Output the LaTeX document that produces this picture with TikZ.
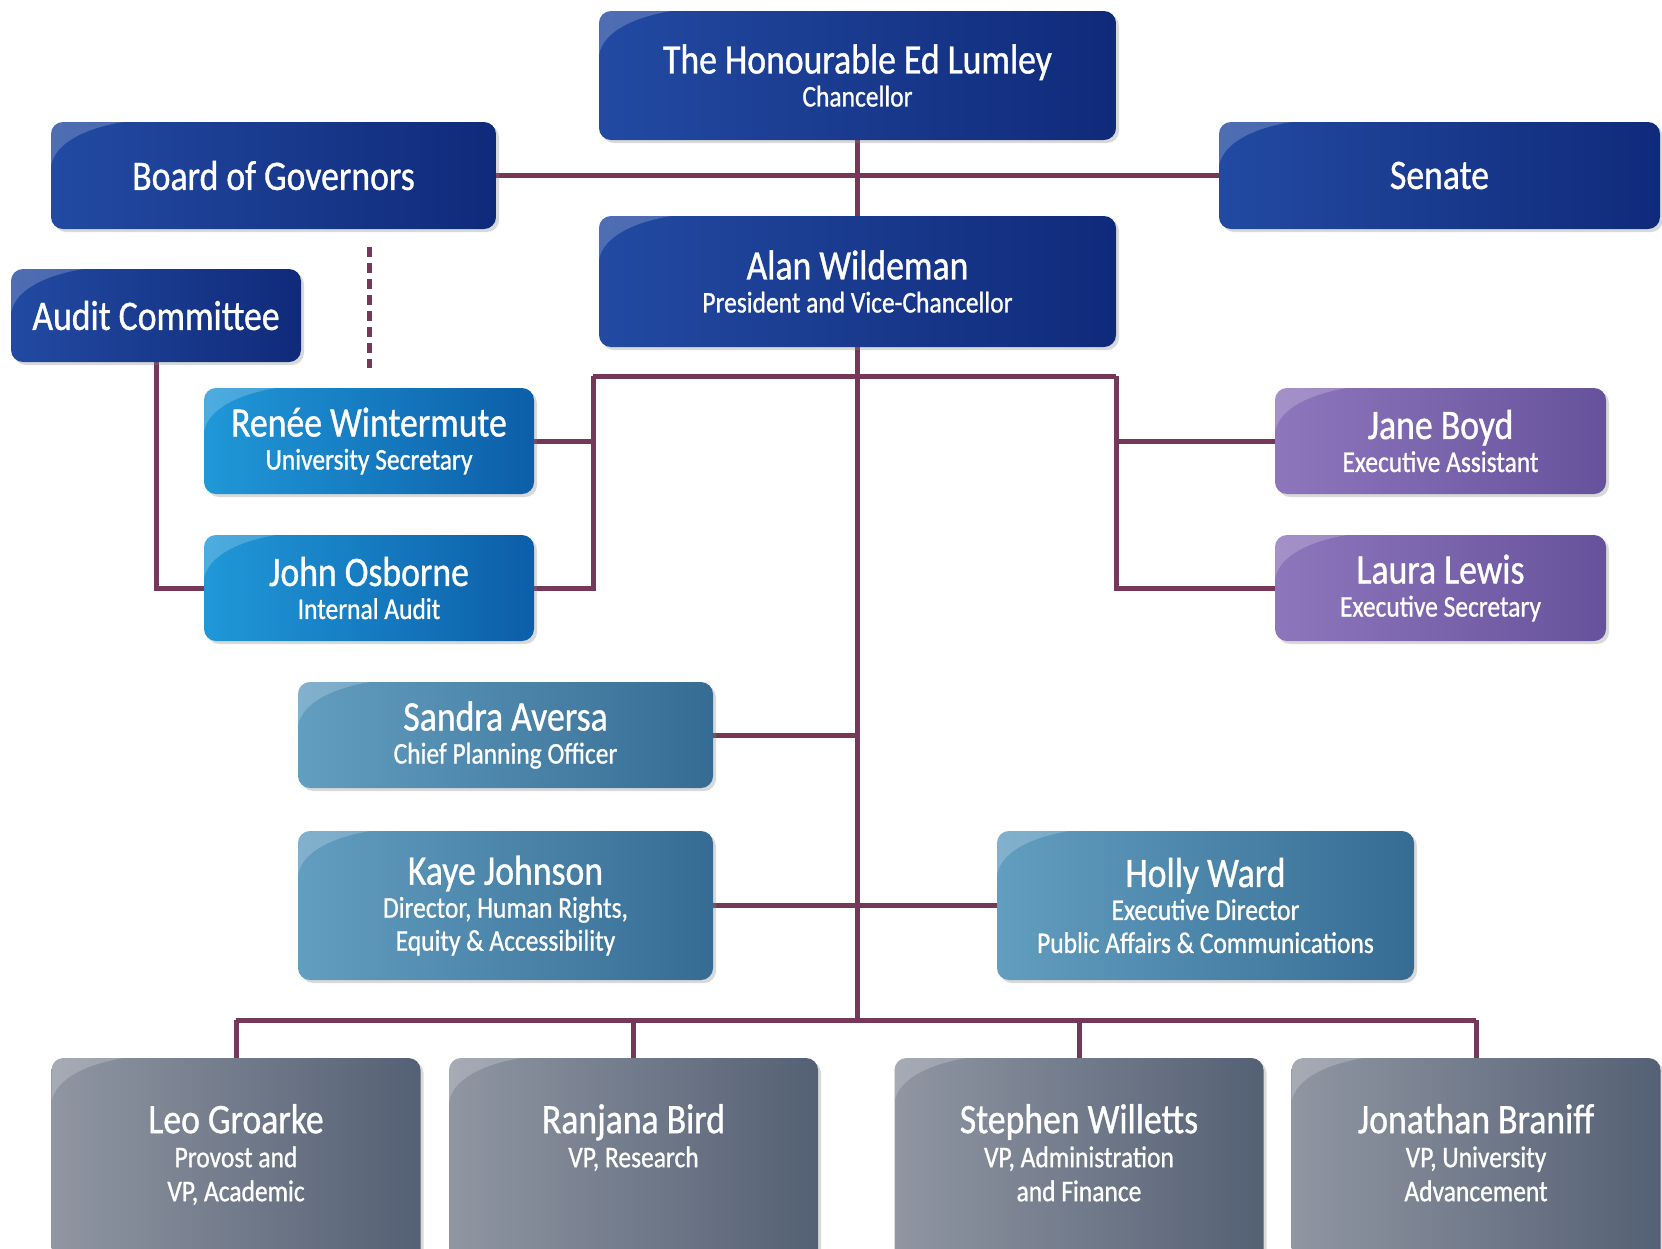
\documentclass[tikz,border=0pt]{standalone}
\usepackage{fontspec}
\setmainfont{Carlito}[FakeStretch=0.85, FakeBold=0.9,
                      BoldFont={Carlito}, BoldFeatures={FakeStretch=0.85}]
\usepackage{tikz}
\usetikzlibrary{positioning, shadows, backgrounds, calc}

\definecolor{navyL}{RGB}{34,74,162}
\definecolor{navyR}{RGB}{16,42,122}
\definecolor{skyL}{RGB}{32,152,216}
\definecolor{skyR}{RGB}{12,94,168}
\definecolor{lilacL}{RGB}{142,118,188}
\definecolor{lilacR}{RGB}{102,82,156}
\definecolor{tealL}{RGB}{98,158,192}
\definecolor{tealR}{RGB}{54,108,148}
\definecolor{slateL}{RGB}{144,150,162}
\definecolor{slateR}{RGB}{84,96,116}
\definecolor{wire}{RGB}{118,56,88}

\newcommand{\nm}[1]{{\fontsize{21}{17}\selectfont #1}}

\tikzset{
  unit/.style   = {rectangle, rounded corners=6pt, text=white, align=center,
                   inner sep=0pt, font=\fontsize{15}{16.5}\selectfont,
                   drop shadow={opacity=0.3, shadow xshift=1.5pt,
                                shadow yshift=-1.5pt},
                   path picture={\fill[white, opacity=0.2, sharp corners]
                     (path picture bounding box.north west) -- ++(36pt,0pt)
                     .. controls +(-18pt,-3pt) and +(2pt,12pt) .. ++(-36pt,-22pt)
                     -- cycle;}},
  vptext/.style = {text=white, align=center, inner sep=0pt,
                   font=\fontsize{15}{17}\selectfont},
}

\begin{document}
\begin{tikzpicture}[
    x=0.5pt, y=-0.5pt,
    navy/.style  = {unit, left color=navyL, right color=navyR},
    sky/.style   = {unit, left color=skyL, right color=skyR,
                    minimum width=165pt, minimum height=53pt},
    lilac/.style = {unit, left color=lilacL, right color=lilacR,
                    minimum width=165.5pt, minimum height=53pt},
    teal/.style  = {unit, left color=tealL, right color=tealR},
    slate/.style = {unit, left color=slateL, right color=slateR,
                    minimum width=184.5pt, minimum height=106pt},
    link/.style  = {draw=wire, line width=2.5pt},
    ]

    \useasboundingbox (0,0) rectangle (1662,1249);

    \node[navy, minimum width=258.5pt, minimum height=64.5pt] (chan) at (857.5,75.5)
    {\nm{The Honourable Ed Lumley}\\Chancellor};

    \node[navy, minimum width=222.5pt, minimum height=53.5pt] (bog) at (273.5,175.5)
    {\nm{Board of Governors}};

    \node[navy, minimum width=220.5pt, minimum height=53.5pt] (senate) at (1439.5,175.5)
    {\nm{Senate}};

    \node[navy, minimum width=258.5pt, minimum height=65.5pt] (pres) at (857.5,281.5)
    {\nm{Alan Wildeman}\\President and Vice-Chancellor};

    \node[navy, minimum width=145pt, minimum height=46.5pt] (audit) at (156,315.5)
    {\nm{Audit Committee}};

    \node[sky] (renee) at (369,441) {\nm{Renée Wintermute}\\University Secretary};
    \node[sky] (john)  at (369,588) {\nm{John Osborne}\\Internal Audit};

    \node[lilac] (jane)  at (1440.5,441) {\nm{Jane Boyd}\\Executive Assistant};
    \node[lilac] (laura) at (1440.5,588) {\nm{Laura Lewis}\\Executive Secretary};

    \node[teal, minimum width=207.5pt, minimum height=53pt] (sandra) at (505.5,735)
    {\nm{Sandra Aversa}\\Chief Planning Officer};

    \node[teal, minimum width=207.5pt, minimum height=74.5pt] (kaye) at (505.5,905.5)
    {\nm{Kaye Johnson}\\Director, Human Rights,\\Equity \& Accessibility};

    \node[teal, minimum width=208.5pt, minimum height=74.5pt] (holly) at (1205.5,905.5)
    {\nm{Holly Ward}\\Executive Director\\Public Affairs \& Communications};

    % vice-presidents, cut off by the page edge
    \node[slate] (leo)      at (236,1164)    {};
    \node[slate] (ranjana)  at (633.5,1164)  {};
    \node[slate] (stephen)  at (1079,1164)   {};
    \node[slate] (jonathan) at (1476,1164)   {};

    \node[vptext, below=23pt of leo.north] (leotxt)
    {\nm{Leo Groarke}\\Provost and\\VP, Academic};
    \node[vptext, below=23pt of ranjana.north] (ranjanatxt)
    {\nm{Ranjana Bird}\\VP, Research};
    \node[vptext, below=23pt of stephen.north] (stephentxt)
    {\nm{Stephen Willetts}\\VP, Administration\\and Finance};
    \node[vptext, below=23pt of jonathan.north] (jonathantxt)
    {\nm{Jonathan Braniff}\\VP, University\\Advancement};

    \coordinate (lbr) at (593,376);
    \coordinate (rbr) at (1116,376);
    \coordinate (bus) at (857.5,1020);

    \begin{scope}[on background layer]
    \draw[link] (bog) -- (senate);
    \draw[link] (chan.south) -- (pres.north);
    \draw[link] (pres.south) -- (bus);
    \draw[link] (lbr) -- (rbr);
    \draw[link] (lbr) |- (john.east);
    \draw[link] (renee.east) -- (renee.east -| lbr);
    \draw[link] (rbr) |- (laura.west);
    \draw[link] (jane.west) -- (jane.west -| rbr);
    \draw[link] (audit.south) |- (john.west);
    \draw[link, dashed, dash pattern=on 5pt off 3pt]
        ([yshift=-9pt]bog.south -| renee.north) -- ([yshift=10pt]renee.north);
    \draw[link] (sandra.east) -- (sandra.east -| bus);
    \draw[link] (kaye) -- (holly);
    \draw[link] (leo.north |- bus) -- (jonathan.north |- bus);
    \foreach \vp in {leo, ranjana, stephen, jonathan}
        \draw[link] (\vp.north |- bus) -- (\vp.north);
    \end{scope}

\end{tikzpicture}
\end{document}
